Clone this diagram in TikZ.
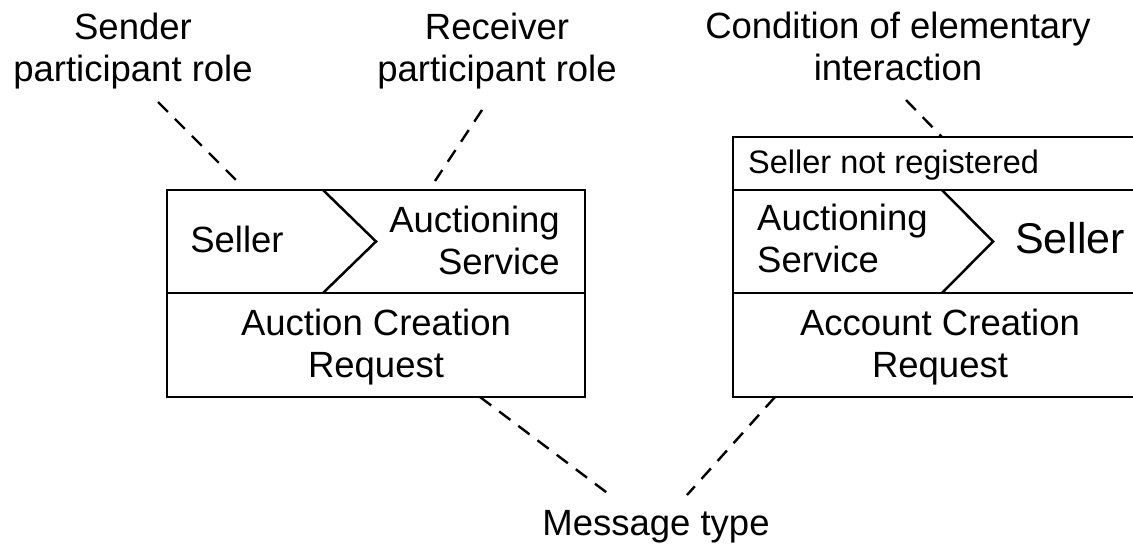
\documentclass[tikz,border=0pt]{standalone}
\usepackage{fontspec}
\setmainfont{Liberation Sans}
\tikzset{
  lbl/.style={font=\fontsize{36.5}{42}\selectfont, inner sep=0pt},
  box/.style={line width=2.5pt},
  leader/.style={line width=2.4pt, dash pattern=on 14pt off 10pt},
}
\begin{document}
\begin{tikzpicture}[x=1pt,y=-1pt]
        \useasboundingbox (0,0) rectangle (1133,549);
        \draw[box] (167,190) rectangle (585,397);
        \draw[box] (167,293) -- (585,293);
        \draw[box] (323,190) -- (376,241.5) -- (323,293);
        \draw[box] (1133,137) -- (733,137) -- (733,397) -- (1133,397);
        \draw[box] (733,190) -- (1133,190);
        \draw[box] (733,293) -- (1133,293);
        \draw[box] (942,190) -- (993,241.5) -- (942,293);
        \node[lbl, anchor=north, align=center] (sendlbl) at (133,12.5) {Sender\\participant role};
        \node[lbl, anchor=north, align=center] (recvlbl) at (497,12.5) {Receiver\\participant role};
        \node[lbl, anchor=north, align=center] (condlbl) at (898,12) {Condition of elementary\\interaction};
        \node[lbl, anchor=base] (msglbl) at (656,535) {Message type};
        \node[lbl, anchor=base] (lsender) at (237,252) {Seller};
        \node[lbl, anchor=north east, align=right] (lreceiver) at (560,205.5) {Auctioning\\Service};
        \node[lbl, anchor=north, align=center] (lmsg) at (376,308.5) {Auction Creation\\Request};
        \node[lbl, font=\fontsize{32.5}{38}\selectfont, anchor=base west] (cond) at (748,173) {Seller not registered};
        \node[lbl, anchor=north west, align=left] (rsender) at (757,204) {Auctioning\\Service};
        \node[lbl, font=\fontsize{43}{50}\selectfont, anchor=base west] (rreceiver) at (1015,253) {Seller};
        \node[lbl, anchor=north, align=center] (rmsg) at (940,308.5) {Account Creation\\Request};
        \coordinate (sendA) at (158,102);
        \coordinate (sendB) at (238,182);
        \coordinate (recvA) at (482,110);
        \coordinate (recvB) at (435,181);
        \coordinate (condA) at (906,100);
        \coordinate (condB) at (942,137);
        \coordinate (msgL) at (480,397);
        \coordinate (msgR) at (775,397);
        \coordinate (msgLend) at (610,495);
        \coordinate (msgRend) at (687,495);
        \draw[leader] (sendA) -- (sendB);
        \draw[leader] (recvA) -- (recvB);
        \draw[leader] (condA) -- (condB);
        \draw[leader] (msgL) -- (msgLend);
        \draw[leader] (msgR) -- (msgRend);
    \end{tikzpicture}
\end{document}
